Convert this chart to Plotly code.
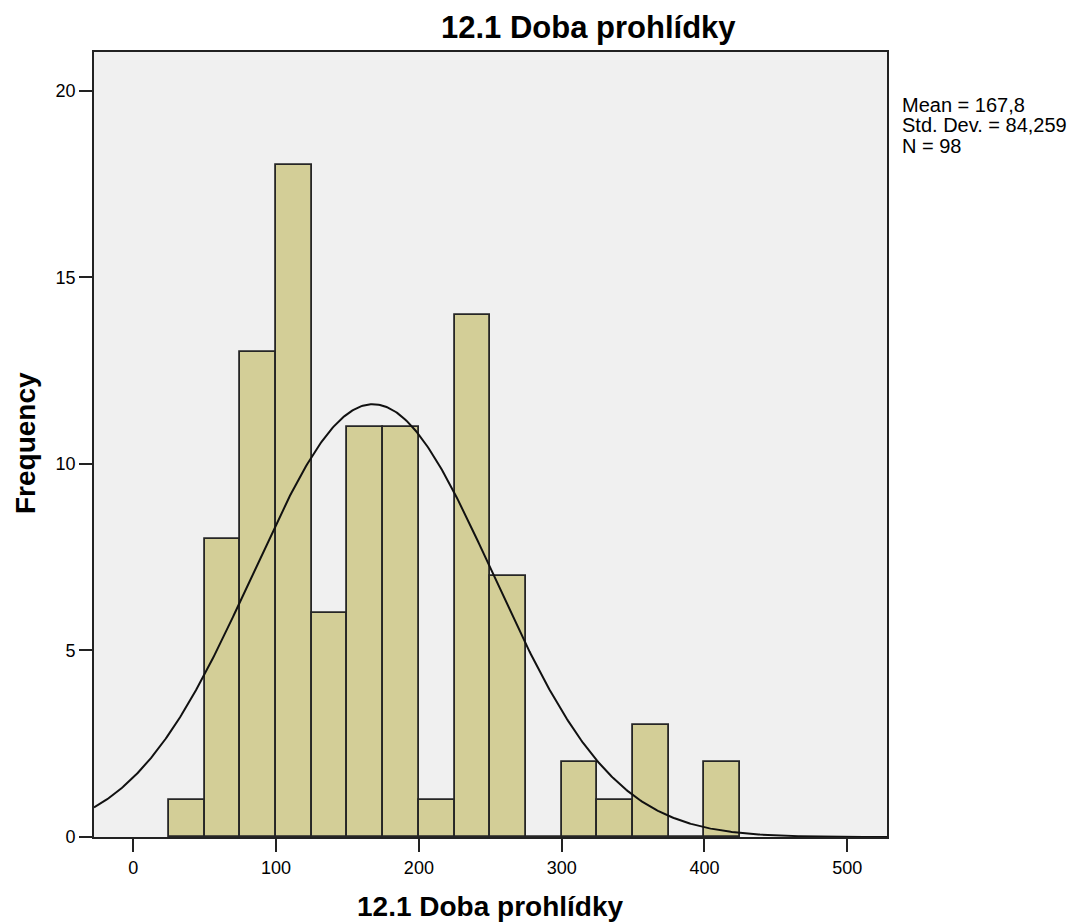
import numpy as np
import plotly.graph_objects as go

# Histogram data (bin width 25)
bin_starts = [25, 50, 75, 100, 125, 150, 175, 200, 225, 250, 275, 300, 325, 350, 375, 400]
counts = [1, 8, 13, 18, 6, 11, 11, 1, 14, 7, 0, 2, 1, 3, 0, 2]
bin_width = 25

# Summary statistics shown on the chart
mean_val = 167.8
std_val = 84.259
n_val = 98
stats_lines = ["Mean = 167,8", "Std. Dev. = 84,259", "N = 98"]

title_text = "12.1 Doba prohlídky"
x_title = "12.1 Doba prohlídky"
y_title = "Frequency"
x_ticks = [0, 100, 200, 300, 400, 500]
y_ticks = [0, 5, 10, 15, 20]

x_range = [-27.5, 527.8]
y_range = [0, 21.04]

W, H = 1073, 924
L, R, T, B = 94, 186, 52, 87
pw, ph = W - L - R, H - T - B

centers = [s + bin_width / 2 for s in bin_starts]

# Normal curve scaled to counts
xc = np.linspace(x_range[0], x_range[1], 600)
yc = n_val * bin_width * np.exp(-0.5 * ((xc - mean_val) / std_val) ** 2) / (std_val * np.sqrt(2 * np.pi))

fig = go.Figure()
fig.add_trace(go.Bar(
    x=centers, y=counts, width=bin_width,
    marker=dict(color="#d3ce97", line=dict(color="#262626", width=1.8)),
    hoverinfo="x+y", showlegend=False,
))
fig.add_trace(go.Scatter(
    x=xc, y=yc, mode="lines",
    line=dict(color="#111111", width=2), showlegend=False, hoverinfo="skip",
))

font_family = "Liberation Sans, Arial, sans-serif"

def px_x(p):
    return (p - L) / pw

def px_y(p):
    return (H - B - p) / ph

annotations = [
    dict(text=f"<b>{title_text}</b>", x=px_x(588), y=px_y(27), xref="paper", yref="paper",
         xanchor="center", yanchor="middle", showarrow=False,
         font=dict(size=31, color="#000000", family=font_family)),
    dict(text=f"<b>{x_title}</b>", x=px_x(490), y=px_y(906), xref="paper", yref="paper",
         xanchor="center", yanchor="middle", showarrow=False,
         font=dict(size=28, color="#000000", family=font_family)),
    dict(text=f"<b>{y_title}</b>", x=px_x(25), y=px_y(443), xref="paper", yref="paper",
         xanchor="center", yanchor="middle", showarrow=False, textangle=-90,
         font=dict(size=28, color="#000000", family=font_family)),
]
for i, line in enumerate(stats_lines):
    annotations.append(dict(
        text=line, x=px_x(900), y=px_y(105 + 20.5 * i), xref="paper", yref="paper",
        xanchor="left", yanchor="middle", showarrow=False,
        font=dict(size=20, color="#000000", family=font_family)))

fig.update_layout(
    width=W, height=H,
    margin=dict(l=L, r=R, t=T, b=B, pad=0),
    paper_bgcolor="#ffffff", plot_bgcolor="#f0f0f0",
    bargap=0, annotations=annotations,
    font=dict(family=font_family, color="#000000"),
)
fig.update_xaxes(
    range=x_range, tickvals=x_ticks, ticktext=[str(v) for v in x_ticks],
    showgrid=False, zeroline=False, showline=True, linecolor="#222222", linewidth=1.8,
    mirror=True, ticks="outside", ticklen=13, tickwidth=1.8, tickcolor="#222222",
    tickfont=dict(size=18, family=font_family, color="#000000"),
)
fig.update_yaxes(
    range=y_range, tickvals=y_ticks, ticktext=[str(v) for v in y_ticks],
    showgrid=False, zeroline=False, showline=True, linecolor="#222222", linewidth=1.8,
    mirror=True, ticks="outside", ticklen=13, tickwidth=1.8, tickcolor="#222222",
    tickfont=dict(size=18, family=font_family, color="#000000"),
)

fig.write_html(
    "out.html",
    config={"displayModeBar": False},
    post_script="document.body.style.margin='0px';document.body.style.overflow='hidden';",
)
